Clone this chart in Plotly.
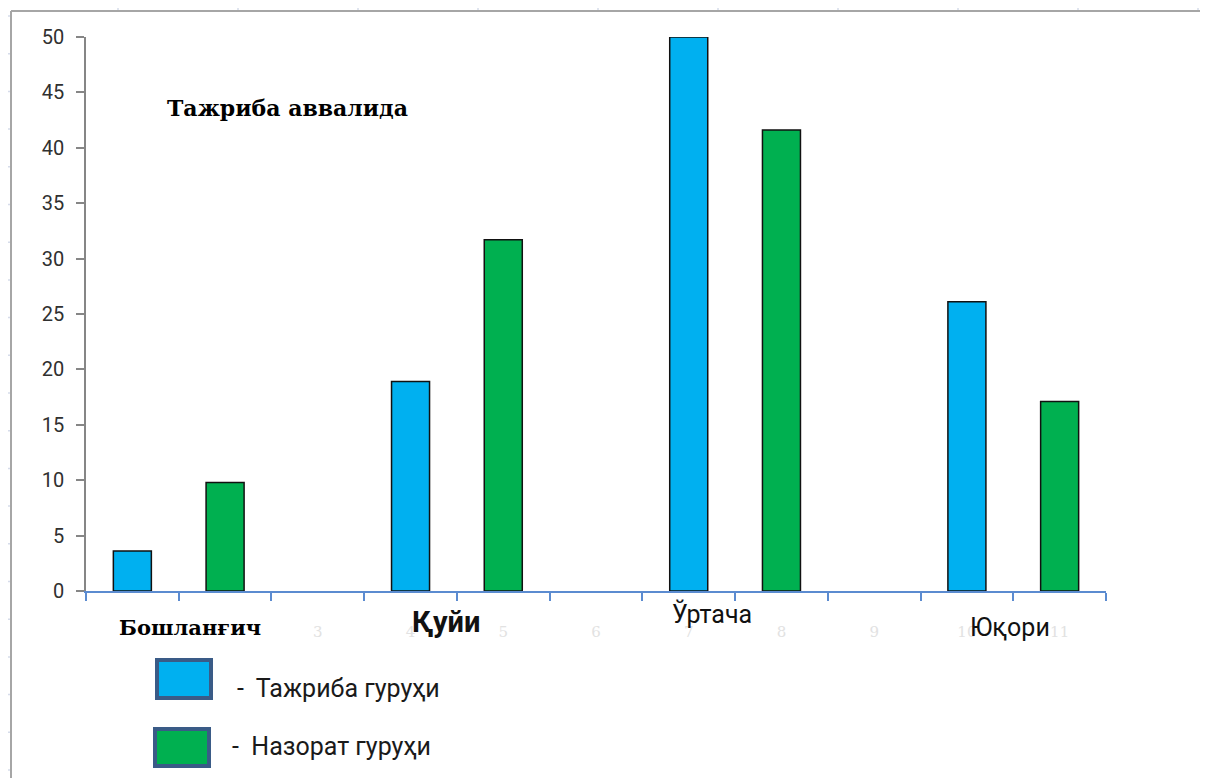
import plotly.graph_objects as go

# ---- data ----
categories = ["1", "2", "3", "4", "5", "6", "7", "8", "9", "10", "11"]
tick_text = ["", "", "3", "4", "5", "6", "7", "8", "9", "10", "11"]
blue_x = ["1", "4", "7", "10"]
blue_vals = [3.6, 18.9, 50.0, 26.1]
green_x = ["2", "5", "8", "11"]
green_vals = [9.8, 31.7, 41.6, 17.1]
level_labels = ["Бошланғич", "Қуйи", "Ўртача", "Юқори"]
title_text = "Тажриба аввалида"
legend_labels = ["-  Тажриба гуруҳи", "-  Назорат гуруҳи"]
y_ticks = [0, 5, 10, 15, 20, 25, 30, 35, 40, 45, 50]

BLUE = "#00b0f0"
GREEN = "#00b050"

OFF = 8  # page body margin
W_PX, H_PX = 1208, 778
L, T = 86 - OFF, 37 - OFF
R = W_PX - (1106 - OFF)
B = H_PX - (591 - OFF)
PW = W_PX - L - R
PH = H_PX - T - B


def px(xp):
    return (xp - OFF - L) / PW


def py(yp):
    return (H_PX - B - (yp - OFF)) / PH


fig = go.Figure()
fig.add_trace(go.Bar(x=blue_x, y=blue_vals, name=legend_labels[0], width=0.41,
                     marker=dict(color=BLUE, line=dict(color="#111111", width=1.5))))
fig.add_trace(go.Bar(x=green_x, y=green_vals, name=legend_labels[1], width=0.41,
                     marker=dict(color=GREEN, line=dict(color="#111111", width=1.5))))

shapes = []
# Excel-like frame
shapes.append(dict(type="line", xref="paper", yref="paper", x0=px(11), x1=px(11), y0=py(11), y1=py(790),
                   line=dict(color="#a6a6a6", width=2)))
shapes.append(dict(type="line", xref="paper", yref="paper", x0=px(11), x1=px(1220), y0=py(11), y1=py(11),
                   line=dict(color="#a6a6a6", width=2)))
for k in range(10):
    xx = 118 + 120 * k
    shapes.append(dict(type="line", xref="paper", yref="paper", x0=px(xx), x1=px(xx), y0=py(8), y1=py(10),
                       line=dict(color="#d6dcea", width=1.5)))
for k in range(21):
    yy = 16 + 37.7 * k
    shapes.append(dict(type="line", xref="paper", yref="paper", x0=px(8), x1=px(10), y0=py(yy), y1=py(yy),
                       line=dict(color="#d6dcea", width=1.5)))
# legend boxes
shapes.append(dict(type="rect", xref="paper", yref="paper", x0=px(157), x1=px(211), y0=py(660), y1=py(698),
                   fillcolor=BLUE, line=dict(color="#3a5b87", width=4)))
shapes.append(dict(type="rect", xref="paper", yref="paper", x0=px(155), x1=px(209), y0=py(729), y1=py(766),
                   fillcolor=GREEN, line=dict(color="#3a5b87", width=4)))

annotations = []
annotations.append(dict(text=title_text, xref="paper", yref="paper", x=px(165), y=py(108),
                        xanchor="left", yanchor="middle", showarrow=False,
                        font=dict(family="DejaVu Serif", size=22, color="#000000", weight="bold")))
annotations.append(dict(text=level_labels[0], xref="paper", yref="paper", x=px(117), y=py(627),
                        xanchor="left", yanchor="middle", showarrow=False,
                        font=dict(family="DejaVu Serif", size=21, color="#000000", weight="bold")))
annotations.append(dict(text=level_labels[1], xref="paper", yref="paper", x=px(410), y=py(622),
                        xanchor="left", yanchor="middle", showarrow=False,
                        font=dict(family="Roboto", size=29, color="#111111", weight="bold")))
annotations.append(dict(text=level_labels[2], xref="paper", yref="paper", x=px(670), y=py(614),
                        xanchor="left", yanchor="middle", showarrow=False,
                        font=dict(family="Roboto", size=25, color="#111111")))
annotations.append(dict(text=level_labels[3], xref="paper", yref="paper", x=px(968), y=py(627),
                        xanchor="left", yanchor="middle", showarrow=False,
                        font=dict(family="Roboto", size=25, color="#111111")))
annotations.append(dict(text=legend_labels[0], xref="paper", yref="paper", x=px(235), y=py(688),
                        xanchor="left", yanchor="middle", showarrow=False,
                        font=dict(family="Roboto", size=25, color="#1a1a1a")))
annotations.append(dict(text=legend_labels[1], xref="paper", yref="paper", x=px(230), y=py(746),
                        xanchor="left", yanchor="middle", showarrow=False,
                        font=dict(family="Roboto", size=25, color="#1a1a1a")))

fig.update_layout(
    width=W_PX, height=H_PX,
    margin=dict(l=L, r=R, t=T, b=B, pad=0),
    paper_bgcolor="white", plot_bgcolor="white",
    barmode="overlay", showlegend=False,
    shapes=shapes, annotations=annotations,
    xaxis=dict(type="category", categoryorder="array", categoryarray=categories,
               tickvals=categories, ticktext=tick_text,
               range=[-0.5, 10.5], tickson="boundaries", ticks="outside", ticklen=8,
               tickcolor="#5b8bd0", tickwidth=1.5, showline=True, linecolor="#5b8bd0", linewidth=1.5,
               showgrid=False, zeroline=False, ticklabelstandoff=26,
               tickfont=dict(family="DejaVu Serif", size=15, color="#e2e2e2")),
    yaxis=dict(range=[0, 50], tickvals=y_ticks, ticks="outside", ticklen=8, tickcolor="#868686",
               tickwidth=1.5, showline=True, linecolor="#868686", linewidth=1.5, showgrid=False,
               zeroline=False, ticklabelstandoff=8,
               tickfont=dict(family="Roboto", size=20, color="#303030")),
)

fig.write_html("out.html")
